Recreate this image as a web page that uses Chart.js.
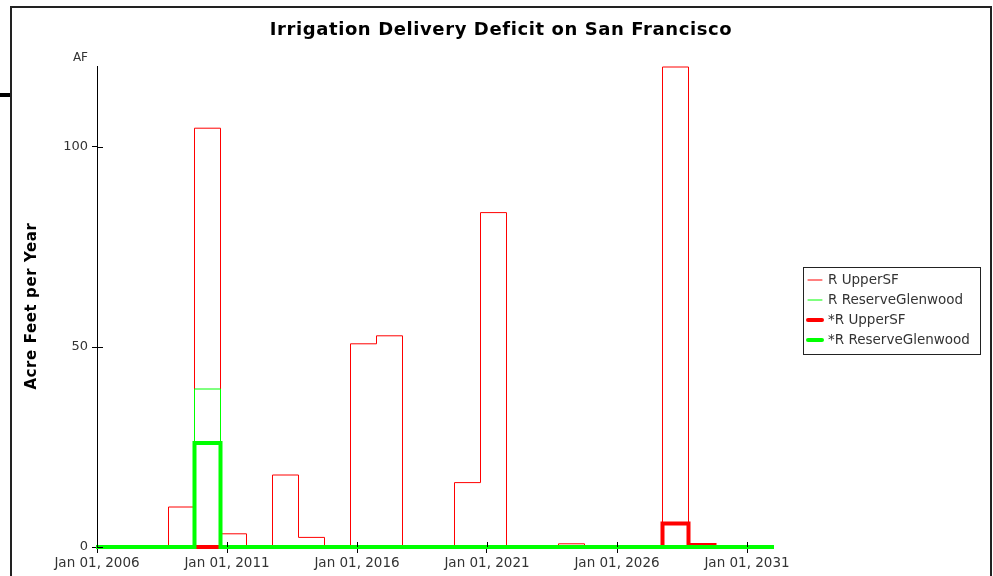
<!DOCTYPE html>
<html>
<head>
<meta charset="utf-8">
<script src="https://cdn.jsdelivr.net/npm/chart.js@4"></script>
<style>
  html, body { margin: 0; padding: 0; background: #fff; }
  #wrap { position: relative; width: 993px; height: 576px; }
</style>
</head>
<body>
<div id="wrap"><canvas id="chart" width="993" height="576"></canvas></div>
<script>
// Water years, each value holds from Oct 1 of the start year to Oct 1 of the next
const startYears = [2005, 2006, 2007, 2008, 2009, 2010, 2011, 2012, 2013, 2014, 2015, 2016, 2017, 2018,
                    2019, 2020, 2021, 2022, 2023, 2024, 2025, 2026, 2027, 2028, 2029, 2030, 2031];
const upperSF       = [0, 0, 0, 10, 104.7, 3.3, 0, 18, 2.4, 0, 50.8, 52.8, 0, 0,
                       16.1, 83.6, 0, 0, 0.8, 0, 0, 0, 120, 0.5, 0, 0, 0];
const reserveGlen   = [0, 0, 0, 0, 39.5, 0, 0, 0, 0, 0, 0, 0, 0, 0,
                       0, 0, 0, 0, 0, 0, 0, 0, 0, 0, 0, 0, 0];
const upperSFStar   = [0, 0, 0, 0, 0, 0, 0, 0, 0, 0, 0, 0, 0, 0,
                       0, 0, 0, 0, 0, 0, 0, 0, 5.9, 0.5, 0, 0, 0];
const reserveStar   = [0, 0, 0, 0, 26, 0, 0, 0, 0, 0, 0, 0, 0, 0,
                       0, 0, 0, 0, 0, 0, 0, 0, 0, 0, 0, 0, 0];
const seriesLabels  = ['R UpperSF', 'R ReserveGlenwood', '*R UpperSF', '*R ReserveGlenwood'];
const xTicks = [2006, 2011, 2016, 2021, 2026, 2031];
const yTicks = [0, 50, 100];

const OCT = 0.75; // fraction of year at Oct 1

function steps(values) {
    const pts = startYears.map((y, i) => ({ x: y + OCT, y: values[i] }));
    const last = startYears.length - 1;
    pts.push({ x: startYears[last] + 1 + OCT, y: values[last] });
    return pts;
}

function series(label, values, color, width, order) {
    return {
        label: label,
        data: steps(values),
        borderColor: color,
        backgroundColor: color,
        borderWidth: width,
        stepped: true,
        pointRadius: 0,
        fill: false,
        order: order,
        clip: { left: 1, top: 3, right: 1, bottom: 3 }
    };
}

const TXT = '#333333';

// frame, title, unit label, inner tick halves, legend box
const decorations = {
    id: 'decorations',
    beforeDraw(chart) {
        const ctx = chart.ctx;
        ctx.save();
        ctx.strokeStyle = '#222';
        ctx.lineWidth = 2;
        ctx.strokeRect(11, 7, 980, 600);
        ctx.fillStyle = '#000';
        ctx.fillRect(0, 93, 10, 4);
        ctx.restore();
    },
    afterDraw(chart) {
        const ctx = chart.ctx;
        const area = chart.chartArea;
        const xs = chart.scales.x, ys = chart.scales.y;
        ctx.save();

        // title
        ctx.fillStyle = '#000';
        ctx.font = 'bold 18px "DejaVu Sans"';
        ctx.letterSpacing = '0.6px';
        ctx.textAlign = 'center';
        ctx.textBaseline = 'middle';
        ctx.fillText('Irrigation Delivery Deficit on San Francisco', 501, 30);

        // y axis title
        ctx.save();
        ctx.translate(32, 306);
        ctx.rotate(-Math.PI / 2);
        ctx.font = 'bold 15px "DejaVu Sans"';
        ctx.letterSpacing = '0.6px';
        ctx.fillText('Acre Feet per Year', 0, 0);
        ctx.restore();
        ctx.letterSpacing = '0px';

        // unit label
        ctx.fillStyle = TXT;
        ctx.font = '12px "DejaVu Sans"';
        ctx.textAlign = 'right';
        ctx.fillText('AF', 88, 58);

        // tick halves inside the plot
        ctx.strokeStyle = '#000';
        ctx.lineWidth = 1;
        ctx.beginPath();
        yTicks.forEach(v => {
            const py = Math.round(ys.getPixelForValue(v)) + 0.5;
            ctx.moveTo(area.left, py);
            ctx.lineTo(area.left + 6, py);
        });
        xTicks.forEach(v => {
            const px = Math.round(xs.getPixelForValue(v)) + 0.5;
            ctx.moveTo(px, area.bottom);
            ctx.lineTo(px, area.bottom - 5);
        });
        ctx.stroke();

        // legend
        const lx = 803.5, ly = 267.5, lw = 177, lh = 87;
        ctx.fillStyle = '#fff';
        ctx.fillRect(lx, ly, lw, lh);
        ctx.strokeStyle = '#222';
        ctx.lineWidth = 1;
        ctx.strokeRect(lx, ly, lw, lh);
        ctx.font = '13.5px "DejaVu Sans"';
        ctx.textAlign = 'left';
        ctx.textBaseline = 'middle';
        chart.data.datasets.forEach((ds, i) => {
            const yy = 280 + i * 20;
            ctx.strokeStyle = ds.borderColor;
            ctx.lineWidth = ds.borderWidth;
            ctx.lineCap = 'round';
            ctx.beginPath();
            ctx.moveTo(808, yy);
            ctx.lineTo(822, yy);
            ctx.stroke();
            ctx.fillStyle = TXT;
            ctx.fillText(ds.label, 828, yy);
        });
        ctx.restore();
    }
};

new Chart(document.getElementById('chart'), {
    type: 'line',
    data: {
        datasets: [
            series(seriesLabels[0], upperSF, '#ff0000', 1, 4),
            series(seriesLabels[1], reserveGlen, '#00ff00', 1, 3),
            series(seriesLabels[2], upperSFStar, '#ff0000', 4, 2),
            series(seriesLabels[3], reserveStar, '#00ff00', 4, 1)
        ]
    },
    options: {
        responsive: false,
        animation: false,
        layout: { padding: { left: 0, top: 66, right: 220, bottom: 0 } },
        scales: {
            x: {
                type: 'linear',
                min: 2006,
                max: 2032,
                afterBuildTicks: s => { s.ticks = xTicks.map(v => ({ value: v })); },
                afterFit: s => { s.height = 29; },
                grid: { drawOnChartArea: false, tickLength: 6, color: '#000' },
                border: { color: '#000' },
                ticks: {
                    color: TXT,
                    font: { family: 'DejaVu Sans', size: 13.5 },
                    padding: 2,
                    maxRotation: 0,
                    autoSkip: false,
                    callback: v => 'Jan 01, ' + v
                }
            },
            y: {
                min: 0,
                max: 120.25,
                afterBuildTicks: s => { s.ticks = yTicks.map(v => ({ value: v })); },
                afterFit: s => { s.width = 97; },
                grid: { drawOnChartArea: false, tickLength: 5, color: '#000' },
                border: { color: '#000' },
                ticks: {
                    color: TXT,
                    font: { family: 'DejaVu Sans', size: 13 },
                    padding: 4
                }
            }
        },
        plugins: {
            legend: { display: false },
            tooltip: { enabled: false }
        }
    },
    plugins: [decorations]
});
</script>
</body>
</html>
